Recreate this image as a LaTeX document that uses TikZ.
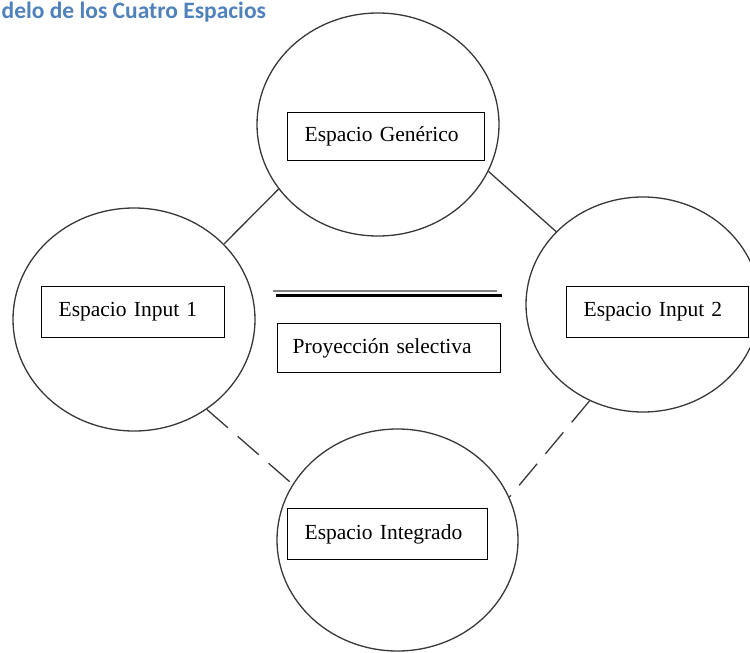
\documentclass[tikz,border=0pt]{standalone}
\usepackage{fontspec}
\setmainfont{Liberation Serif}
\newfontfamily\titlefont{Carlito}
\usetikzlibrary{shapes.geometric}
\definecolor{titleblue}{HTML}{4F81BD}
\definecolor{linegray}{HTML}{383838}
\begin{document}
\begin{tikzpicture}[x=1pt,y=-1pt,
  space/.style={ellipse, draw=linegray, line width=1.3pt, inner sep=0pt},
  labelbox/.style={draw=black, line width=1.3pt, inner xsep=17pt, inner ysep=0pt,
    align=left, anchor=north west, font=\fontsize{21.5}{25}\selectfont},
  link/.style={draw=linegray, line width=1.3pt},
  dashlink/.style={link, dash pattern=on 28pt off 13pt}]
\useasboundingbox (0,0) rectangle (750,653);

\node[anchor=base west, inner sep=0pt, text=titleblue,
  font=\titlefont\bfseries\fontsize{23.5}{28}\selectfont] (title) at (1.5,18.5) {delo de los Cuatro Espacios};

% spaces
\node[space, minimum width=242pt, minimum height=223pt] (top) at (378,124.5) {};
\node[space, minimum width=242pt, minimum height=223pt] (left) at (134,319.5) {};
\node[space, minimum width=234pt, minimum height=215pt] (right) at (643,304.5) {};
\node[space, minimum width=241pt, minimum height=222pt] (bottom) at (397.5,540) {};

% label boxes
\node[labelbox, text width=163pt, minimum height=48pt] (gen) at (287,112) {Espacio Genérico};
\node[labelbox, text width=149pt, minimum height=51pt] (in1) at (41,286) {Espacio Input 1};
\node[labelbox, text width=148pt, minimum height=51pt] (in2) at (566,286) {Espacio Input 2};
\node[labelbox, text width=166pt, minimum height=51pt] (integ) at (287,508) {Espacio Integrado};
\node[labelbox, inner xsep=15pt, text width=193pt, minimum height=49pt] (proy) at (277,323) {Proyección selectiva};

% double rule
\coordinate (ra) at (273,291);
\coordinate (rb) at (497,291);
\coordinate (rc) at (276,295);
\coordinate (rd) at (502,295);
\draw[gray, line width=1.4pt] (ra) -- (rb);
\draw[black, line width=3pt] (rc) -- (rd);

% connectors
\draw[link] (left.40) -- (top.213.5);
\draw[link] (top.-23.6) -- (right.140.8);
\draw[dashlink] (left.-51.9) -- (bottom.152.9);
\draw[dashlink] (right.241) -- (bottom.21.8);
\end{tikzpicture}
\end{document}
